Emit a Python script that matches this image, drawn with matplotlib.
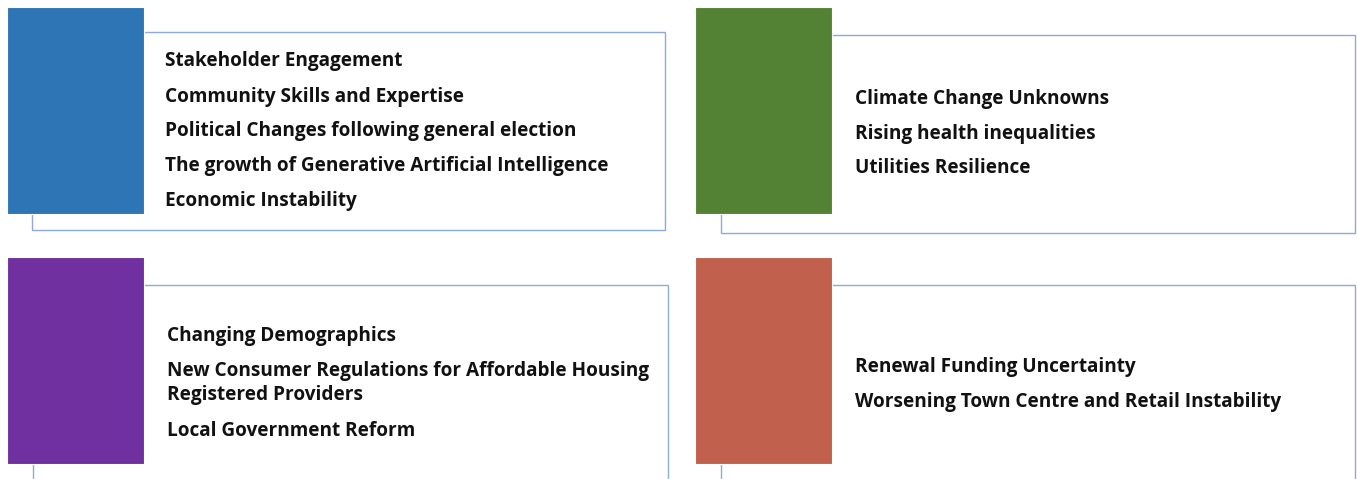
import matplotlib.pyplot as plt
from matplotlib.patches import Rectangle

# items shown in each panel
blue_items = ["Stakeholder Engagement", "Community Skills and Expertise",
              "Political Changes following general election",
              "The growth of Generative Artificial Intelligence", "Economic Instability"]
green_items = ["Climate Change Unknowns", "Rising health inequalities", "Utilities Resilience"]
purple_items = ["Changing Demographics",
                "New Consumer Regulations for Affordable Housing\nRegistered Providers",
                "Local Government Reform"]
red_items = ["Renewal Funding Uncertainty", "Worsening Town Centre and Retail Instability"]

colors = ["#2E75B6", "#548235", "#7030A0", "#C0604D"]
outline = "#8EAADB"

W, H = 1357, 479
fig = plt.figure(figsize=(W / 100, H / 100), dpi=100)
ax = fig.add_axes([0, 0, 1, 1])
ax.set_xlim(0, W)
ax.set_ylim(H, 0)
ax.axis("off")

# (colour block x, y), (outline x0, y0, x1, y1), text x, text y list
panels = [
    (blue_items, colors[0], (7, 7), (32, 32, 665, 230), 165, [61, 97, 131, 166, 201]),
    (green_items, colors[1], (695, 7), (721, 35, 1355, 233), 855, [99, 134, 168]),
    (purple_items, colors[2], (7, 257), (33, 285, 668, 520), 167, [336, 383, 431]),
    (red_items, colors[3], (695, 257), (721, 285, 1355, 520), 855, [367, 402]),
]

for items, c, (bx, by), (x0, y0, x1, y1), tx, tys in panels:
    ax.add_patch(Rectangle((x0, y0), x1 - x0, y1 - y0, fill=False,
                           edgecolor=outline, lw=1.0, zorder=1))
    ax.add_patch(Rectangle((bx, by), 137, 207, facecolor=c,
                           edgecolor="white", lw=0.8, zorder=2))
    for t, ty in zip(items, tys):
        ax.text(tx, ty, t, fontsize=13.7, fontweight="bold", family="Open Sans",
                va="center", ha="left", color="#111111", linespacing=1.22, zorder=3)

fig.savefig("out.png", dpi=100)
